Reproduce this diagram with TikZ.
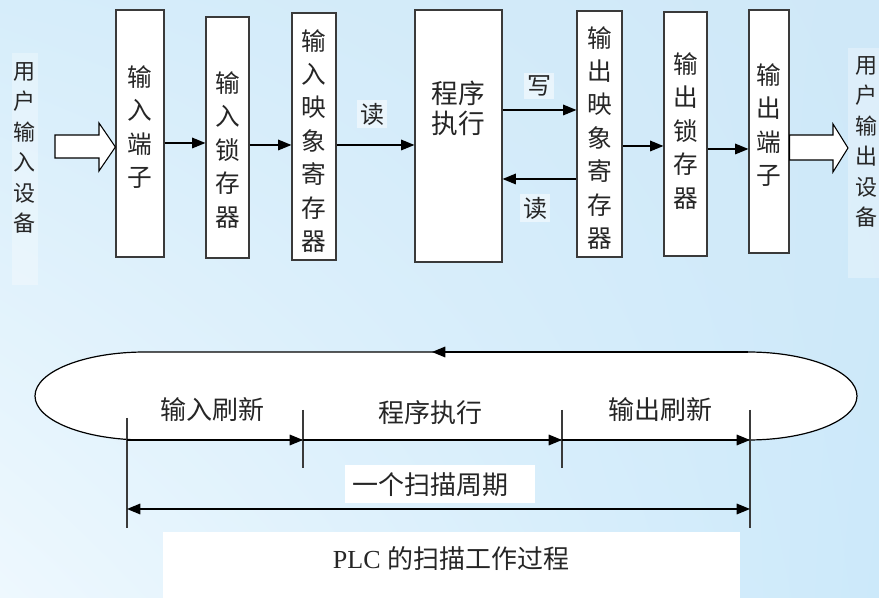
\documentclass[tikz,border=0pt]{standalone}
\usepackage{fontspec}
\setmainfont{Liberation Serif}
\newfontfamily\cjk{Noto Sans CJK SC}
\usetikzlibrary{arrows.meta,fit,calc,shadings}
\definecolor{bgUL}{HTML}{D6EDFA}
\definecolor{bgUR}{HTML}{CFE8F8}
\definecolor{bgLL}{HTML}{EEF8FE}
\definecolor{bgLR}{HTML}{CCE9FA}
\definecolor{boxc}{HTML}{3A3A3A}
\definecolor{txt}{HTML}{262626}
\begin{document}
\begin{tikzpicture}[x=0.75pt,y=-0.75pt,
  box/.style={draw=boxc, line width=0.9pt, fill=white, inner sep=0pt},
  vt/.style={font=\cjk\fontsize{18.5}{25.1}\selectfont, align=center, text=txt, inner sep=0pt},
  vtb/.style={font=\cjk\fontsize{20}{22.5}\selectfont, align=center, text=txt, inner sep=0pt},
  side/.style={font=\cjk\fontsize{16.5}{22.9}\selectfont, align=center, text=txt, inner sep=0pt},
  faint/.style={fill=white, fill opacity=0.3, draw=none, inner sep=0pt},
  arr/.style={draw=black, line width=0.9pt, -{Triangle[length=10pt,width=8pt]}},
  darr/.style={draw=black, line width=0.9pt, {Triangle[length=10pt,width=8pt]}-{Triangle[length=10pt,width=8pt]}},
  lbl/.style={font=\cjk\fontsize{18}{20}\selectfont, text=txt, fill=white, fill opacity=0.5, text opacity=1, inner sep=2pt},
  hl/.style={font=\cjk\fontsize{19.5}{22}\selectfont, text=txt, inner sep=0pt},
  tick/.style={draw=boxc, line width=0.8pt},
  block/.style={draw=black, line width=0.8pt, fill=white}]
\useasboundingbox (0,0) rectangle (879,598);
\shade[upper left=bgUL, upper right=bgUR, lower left=bgLL, lower right=bgLR] (0,0) rectangle (879,598);

% side labels
\node[faint, fit={(12,53)(38,285)}] (inbg) {};
\node[side] (in) at (24,148) {用\\户\\输\\入\\设\\备};
\node[faint, fit={(848,48)(879,278)}] (outbg) {};
\node[side] (out) at (866,142) {用\\户\\输\\出\\设\\备};

% boxes
\node[box, fit={(116,10)(164,257)}] (b1) {};
\node[vt] (t1) at (140,127) {输\\入\\端\\子};
\node[box, fit={(206,17)(249,258)}] (b2) {};
\node[vt] (t2) at (228,150) {输\\入\\锁\\存\\器};
\node[box, fit={(292,13)(336,260)}] (b3) {};
\node[vt] (t3) at (314,141) {输\\入\\映\\象\\寄\\存\\器};
\node[box, fit={(415,10)(502,262)}] (b4) {};
\node[vtb] (t4) at (458,108) {程序\\执行};
\node[box, fit={(577,11)(622,257)}] (b5) {};
\node[vt] (t5) at (600,138) {输\\出\\映\\象\\寄\\存\\器};
\node[box, fit={(664,12)(707,256)}] (b6) {};
\node[vt] (t6) at (686,131) {输\\出\\锁\\存\\器};
\node[box, fit={(749,10)(789,253)}] (b7) {};
\node[vt] (t7) at (769,125) {输\\出\\端\\子};

% block arrows
\draw[block] (55,135) -- (99,135) -- (99,123) -- (b1.west |- 0,147) -- (99,171) -- (99,158) -- (55,158) -- cycle;
\draw[block] (b7.east |- 0,135) -- (833,135) -- (833,124) -- (848,148) -- (833,172) -- (833,160) -- (b7.east |- 0,160) -- cycle;

% connectors
\draw[arr] (b1.east |- 0,143) -- (b2.west |- 0,143);
\draw[arr] (b2.east |- 0,145) -- (b3.west |- 0,145);
\draw[arr] (b3.east |- 0,145) -- (b4.west |- 0,145);
\node[lbl] (r1) at (372,114) {读};
\draw[arr] (b4.east |- 0,110) -- (b5.west |- 0,110);
\node[lbl] (w1) at (539,86) {写};
\draw[arr] (b5.west |- 0,179) -- (b4.east |- 0,179);
\node[lbl] (r2) at (535,208) {读};
\draw[arr] (b5.east |- 0,146) -- (b6.west |- 0,146);
\draw[arr] (b6.east |- 0,149) -- (b7.west |- 0,149);

% scan cycle
\draw[line width=0.9pt, draw=black, fill=white] (145,352) -- (748,352)
  arc[start angle=-90,end angle=90,x radius=109,y radius=44] -- (145,440)
  arc[start angle=90,end angle=270,x radius=110,y radius=44] -- cycle;
\coordinate (eTR) at (748,352);
\coordinate (eMid) at (432,352);
\draw[arr] (eTR) -- (eMid);

\coordinate (k1t) at (127,418); \coordinate (k1b) at (127,528);
\coordinate (k2t) at (303,410); \coordinate (k2b) at (303,468);
\coordinate (k3t) at (562,410); \coordinate (k3b) at (562,468);
\coordinate (k4t) at (750,410); \coordinate (k4b) at (750,528);
\draw[tick] (k1t) -- (k1b);
\draw[tick] (k2t) -- (k2b);
\draw[tick] (k3t) -- (k3b);
\draw[tick] (k4t) -- (k4b);
\draw[arr] (k1t |- 0,440) -- (k2t |- 0,440);
\draw[arr] (k2t |- 0,440) -- (k3t |- 0,440);
\draw[arr] (k3t |- 0,440) -- (k4t |- 0,440);
\draw[darr] (k1t |- 0,509) -- (k4t |- 0,509);

\node[hl] (p1) at (212,410) {输入刷新};
\node[hl] (p2) at (430,413) {程序执行};
\node[hl] (p3) at (660,410) {输出刷新};

\node[fill=white, inner sep=0pt, fit={(345,465)(535,503)}] (cycbg) {};
\node[hl] (cyc) at (430,485) {一个扫描周期};
\node[fill=white, inner sep=0pt, fit={(163,532)(740,598)}] (plcbg) {};
\node[hl] (plc) at (451,559) {{\rmfamily PLC }的扫描工作过程};
\end{tikzpicture}
\end{document}
